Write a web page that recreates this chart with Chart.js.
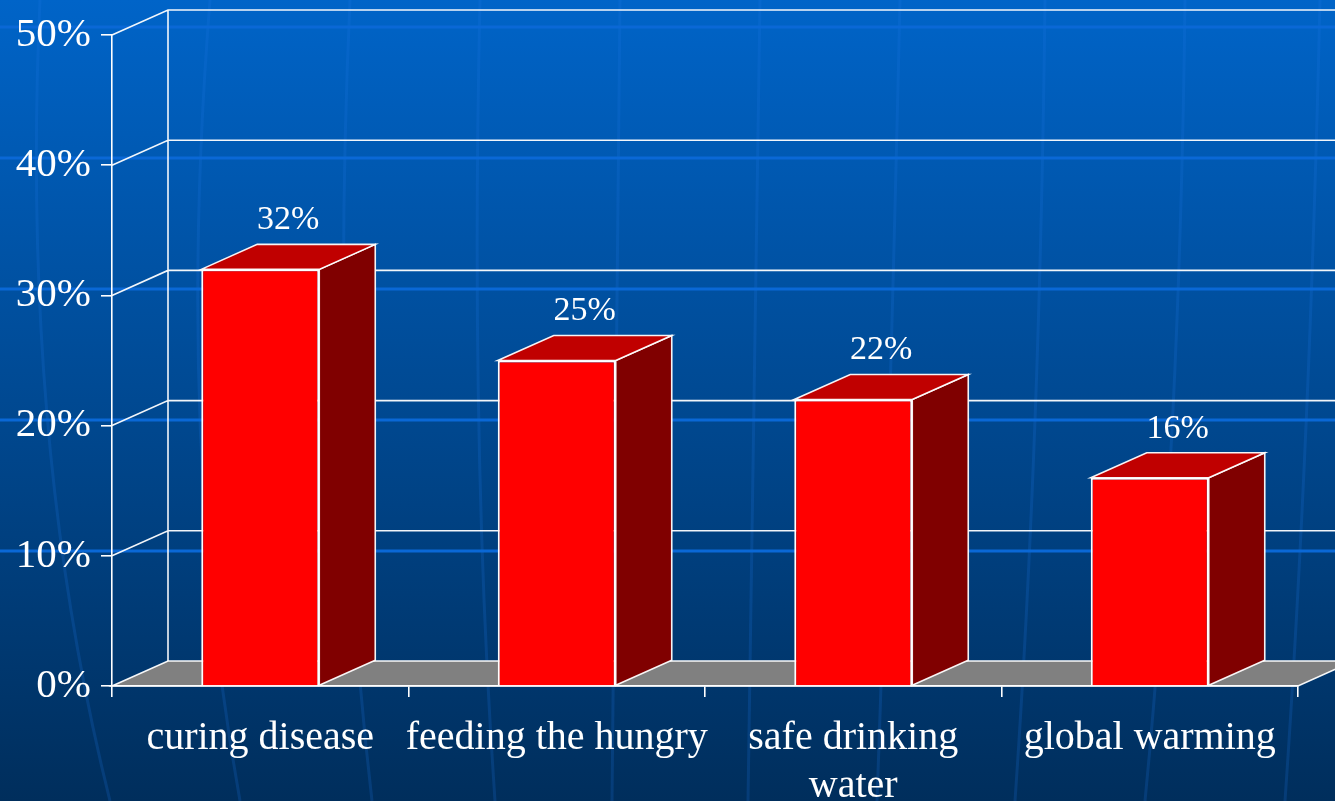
<!DOCTYPE html>
<html>
<head>
<meta charset="utf-8">
<script src="https://cdn.jsdelivr.net/npm/chart.js@4.4.1/dist/chart.umd.min.js"></script>
<style>
  html, body { margin: 0; padding: 0; background: #003a78; }
  #wrap { width: 1335px; height: 801px; }
</style>
</head>
<body>
<div id="wrap"><canvas id="priorityChart" width="1335" height="801"></canvas></div>
<script>
const categories = ['curing disease', 'feeding the hungry', ['safe drinking', 'water'], 'global warming'];
const shares = [32, 25, 22, 16];
const yMax = 50;
const yStep = 10;

// 3d look: how far the back wall sits from the front plane
const DX = 56;
const DY = -25;
const LINE = 'rgba(255,255,255,0.95)';
const SERIF = '"Liberation Serif", "Times New Roman", serif';

function poly(ctx, pts, fill) {
  ctx.beginPath();
  ctx.moveTo(pts[0][0], pts[0][1]);
  for (let i = 1; i < pts.length; i++) ctx.lineTo(pts[i][0], pts[i][1]);
  ctx.closePath();
  if (fill) { ctx.fillStyle = fill; ctx.fill(); }
  ctx.strokeStyle = LINE;
  ctx.lineWidth = 1.6;
  ctx.stroke();
}

const scene3d = {
  id: 'scene3d',
  beforeDraw(chart) {
    const ctx = chart.ctx;
    const W = chart.width, H = chart.height;
    const area = chart.chartArea;
    const y = chart.scales.y;
    ctx.save();
    // slide background
    const g = ctx.createLinearGradient(0, 0, 0, H);
    g.addColorStop(0, '#0064c8');
    g.addColorStop(1, '#002e5c');
    ctx.fillStyle = g;
    ctx.fillRect(0, 0, W, H);

    // faint template curves
    ctx.strokeStyle = 'rgba(30,120,230,0.2)';
    ctx.lineWidth = 3;
    const curves = [[40, 20, 110], [210, 175, 240], [350, 330, 372], [480, 470, 495],
                    [620, 615, 612], [760, 755, 748], [900, 890, 877], [1045, 1040, 1015],
                    [1185, 1180, 1145], [1320, 1310, 1285]];
    curves.forEach(c => {
      ctx.beginPath();
      ctx.moveTo(c[0], 0);
      ctx.quadraticCurveTo(c[1], H * 0.55, c[2], H);
      ctx.stroke();
    });
    // template horizontal bands
    ctx.fillStyle = '#0a68d6';
    [27, 158, 289, 420, 551].forEach(v => ctx.fillRect(0, v - 1.5, W, 3));

    // left wall and back wall grid
    ctx.strokeStyle = LINE;
    ctx.lineWidth = 1.6;
    const base = y.getPixelForValue(0);
    const top = y.getPixelForValue(yMax);
    ctx.beginPath();
    ctx.moveTo(area.left + DX, base + DY);
    ctx.lineTo(area.left + DX, top + DY);
    for (let v = yStep; v <= yMax; v += yStep) {
      const py = y.getPixelForValue(v);
      ctx.moveTo(area.left, py);
      ctx.lineTo(area.left + DX, py + DY);
      ctx.lineTo(W, py + DY);
    }
    ctx.stroke();

    // floor
    poly(ctx, [[area.left, base], [area.left + DX, base + DY],
               [area.right + DX, base + DY], [area.right, base]], '#808080');
    ctx.restore();
  },
  beforeDatasetsDraw(chart) {
    const ctx = chart.ctx;
    ctx.save();
    chart.getDatasetMeta(0).data.forEach(bar => {
      const L = bar.x - bar.width / 2, R = bar.x + bar.width / 2;
      poly(ctx, [[R, bar.y], [R + DX, bar.y + DY], [R + DX, bar.base + DY], [R, bar.base]], '#800000');
      poly(ctx, [[L, bar.y], [L + DX, bar.y + DY], [R + DX, bar.y + DY], [R, bar.y]], '#c00000');
    });
    ctx.restore();
  },
  afterDatasetsDraw(chart) {
    const ctx = chart.ctx;
    ctx.save();
    ctx.fillStyle = '#ffffff';
    ctx.font = '34px ' + SERIF;
    ctx.textAlign = 'center';
    ctx.textBaseline = 'middle';
    chart.getDatasetMeta(0).data.forEach((bar, i) => {
      ctx.fillText(shares[i] + '%', bar.x + DX / 2, bar.y + DY - 24);
    });
    ctx.restore();
  }
};

const ctx = document.getElementById('priorityChart');

const priorityChart = new Chart(ctx, {
  type: 'bar',
  data: {
    labels: categories,
    datasets: [{
      data: shares,
      backgroundColor: '#ff0000',
      borderColor: '#ffffff',
      borderWidth: 2,
      barPercentage: 0.398,
      categoryPercentage: 1
    }]
  },
  options: {
    responsive: false,
    animation: false,
    layout: { padding: { top: 35, right: 37, left: 0, bottom: 0 } },
    plugins: {
      legend: { display: false },
      tooltip: { enabled: false }
    },
    scales: {
      x: {
        afterFit(scale) { scale.height = 115; },
        border: { display: true, color: '#ffffff', width: 1.6 },
        grid: { display: true, drawOnChartArea: false, drawTicks: true, tickLength: 11, color: '#ffffff', lineWidth: 1.6, offset: true },
        ticks: {
          color: '#ffffff',
          font: { family: SERIF, size: 40, lineHeight: 1.2 },
          padding: 17,
          maxRotation: 0,
          minRotation: 0,
          autoSkip: false
        }
      },
      y: {
        min: 0,
        max: yMax,
        afterFit(scale) { scale.width = 112; },
        border: { display: true, color: '#ffffff', width: 1.6 },
        grid: { display: true, drawOnChartArea: false, drawTicks: true, tickLength: 11, color: '#ffffff', lineWidth: 1.6 },
        ticks: {
          stepSize: yStep,
          color: '#ffffff',
          font: { family: SERIF, size: 41 },
          padding: 10,
          callback: v => v + '%'
        }
      }
    }
  },
  plugins: [scene3d]
});
</script>
</body>
</html>
